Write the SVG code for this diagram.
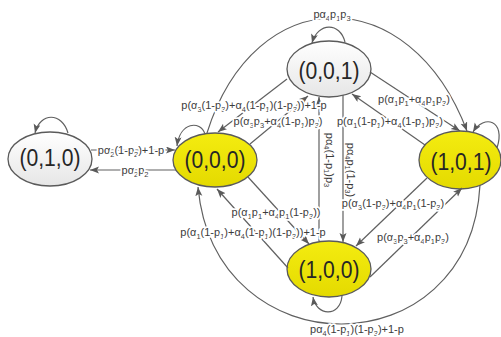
<svg xmlns="http://www.w3.org/2000/svg" width="501" height="337" viewBox="0 0 501 337">
<style>
.e{stroke:#5a5a5a;stroke-width:1.3}
.c{fill:none;stroke:#606060;stroke-width:1.2;marker-end:url(#ah)}
.n{font-family:"Liberation Sans",Arial,sans-serif;font-size:24px;fill:#262626;text-anchor:middle}
.lb{font-family:"Liberation Sans",Arial,sans-serif;font-size:11px;fill:#3c3c3c;text-anchor:middle;stroke:#fff;stroke-width:3.5;stroke-linejoin:round;paint-order:stroke}
.lv{font-family:"Liberation Sans",Arial,sans-serif;font-size:11px;fill:#3c3c3c;text-anchor:middle}
.s{font-size:7.5px}
</style>
<defs>
<linearGradient id="gy" x1="0" y1="0" x2="0" y2="1"><stop offset="0" stop-color="#f4ec10"/><stop offset="1" stop-color="#e4da00"/></linearGradient>
<linearGradient id="gg" x1="0" y1="0" x2="0" y2="1"><stop offset="0" stop-color="#ffffff"/><stop offset="1" stop-color="#e6e6e6"/></linearGradient>
<marker id="ah" markerUnits="userSpaceOnUse" markerWidth="10" markerHeight="8" refX="9" refY="3.5" orient="auto"><path d="M0,0 L9,3.5 L0,7 L2,3.5 z" fill="#5a5a5a"/></marker>
</defs>
<g id="n010"><ellipse class="e" cx="50" cy="159" rx="42" ry="27" fill="url(#gg)"/><text class="n" transform="translate(50,166) scale(0.88,1)">(0,1,0)</text></g>
<g id="n000"><ellipse class="e" cx="215" cy="160" rx="42" ry="27" fill="url(#gy)"/><text class="n" transform="translate(215,168) scale(0.88,1)">(0,0,0)</text></g>
<g id="n001"><ellipse class="e" cx="329" cy="69" rx="42" ry="28" fill="url(#gg)"/><text class="n" transform="translate(329,79) scale(0.88,1)">(0,0,1)</text></g>
<g id="n101"><ellipse class="e" cx="460" cy="160" rx="41" ry="29" fill="url(#gy)"/><text class="n" transform="translate(461,170) scale(0.88,1)">(1,0,1)</text></g>
<g id="n100"><ellipse class="e" cx="329" cy="269" rx="42" ry="28" fill="url(#gy)"/><text class="n" transform="translate(329,278) scale(0.88,1)">(1,0,0)</text></g>
<g id="connectors">
<path class="c" d="M68,133 C62,112 40,112 35,133"/>
<path class="c" d="M91,150 L175,150"/>
<path class="c" d="M176,170 L90,170"/>
<path class="c" d="M205,134 C200,120 180,122 177,146"/>
<path class="c" d="M207,133 C255,-20 410,-20 467,131"/>
<path class="c" d="M345,42 C340,22 318,22 312,43"/>
<path class="c" d="M250,144 L308,96"/>
<path class="c" d="M287,79 L218,132"/>
<path class="c" d="M319,241 L319,97"/>
<path class="c" d="M343,95 L343,242"/>
<path class="c" d="M425,145 L352,94"/>
<path class="c" d="M370,72 L460,131"/>
<path class="c" d="M497,148 C506,120 484,114 473,132"/>
<path class="c" d="M427,178 L356,246"/>
<path class="c" d="M370,277 L462,188"/>
<path class="c" d="M342,296 C340,318 316,316 313,297"/>
<path class="c" d="M480,185 C470,370 215,370 198,187"/>
<path class="c" d="M288,268 L217,189"/>
<path class="c" d="M248,177 L309,244"/>
<text class="lb" x="131" y="154">pα<tspan class="s" dy="2.5">2</tspan><tspan dy="-2.5">(1-p</tspan><tspan class="s" dy="2.5">2</tspan><tspan dy="-2.5">)+1-p</tspan></text>
<text class="lb" x="135" y="174">pα<tspan class="s" dy="2.5">2</tspan><tspan dy="-2.5">p</tspan><tspan class="s" dy="2.5">2</tspan></text>
<text class="lb" x="332" y="18">pα<tspan class="s" dy="2.5">4</tspan><tspan dy="-2.5">p</tspan><tspan class="s" dy="2.5">1</tspan><tspan dy="-2.5">p</tspan><tspan class="s" dy="2.5">3</tspan></text>
<text class="lb" x="254" y="109">p(α<tspan class="s" dy="2.5">3</tspan><tspan dy="-2.5">(1-p</tspan><tspan class="s" dy="2.5">3</tspan><tspan dy="-2.5">)+α</tspan><tspan class="s" dy="2.5">4</tspan><tspan dy="-2.5">(1-p</tspan><tspan class="s" dy="2.5">1</tspan><tspan dy="-2.5">)(1-p</tspan><tspan class="s" dy="2.5">3</tspan><tspan dy="-2.5">))+1-p</tspan></text>
<text class="lb" x="278" y="125">p(α<tspan class="s" dy="2.5">3</tspan><tspan dy="-2.5">p</tspan><tspan class="s" dy="2.5">3</tspan><tspan dy="-2.5">+α</tspan><tspan class="s" dy="2.5">4</tspan><tspan dy="-2.5">(1-p</tspan><tspan class="s" dy="2.5">1</tspan><tspan dy="-2.5">)p</tspan><tspan class="s" dy="2.5">3</tspan><tspan dy="-2.5">)</tspan></text>
<text class="lb" x="414" y="103">p(α<tspan class="s" dy="2.5">1</tspan><tspan dy="-2.5">p</tspan><tspan class="s" dy="2.5">1</tspan><tspan dy="-2.5">+α</tspan><tspan class="s" dy="2.5">4</tspan><tspan dy="-2.5">p</tspan><tspan class="s" dy="2.5">1</tspan><tspan dy="-2.5">p</tspan><tspan class="s" dy="2.5">3</tspan><tspan dy="-2.5">)</tspan></text>
<text class="lb" x="390" y="125">p(α<tspan class="s" dy="2.5">1</tspan><tspan dy="-2.5">(1-p</tspan><tspan class="s" dy="2.5">1</tspan><tspan dy="-2.5">)+α</tspan><tspan class="s" dy="2.5">4</tspan><tspan dy="-2.5">(1-p</tspan><tspan class="s" dy="2.5">1</tspan><tspan dy="-2.5">)p</tspan><tspan class="s" dy="2.5">3</tspan><tspan dy="-2.5">)</tspan></text>
<text class="lv" transform="translate(326,160) rotate(90)">pα<tspan class="s" dy="2.5">4</tspan><tspan dy="-2.5">(1-p</tspan><tspan class="s" dy="2.5">1</tspan><tspan dy="-2.5">)p</tspan><tspan class="s" dy="2.5">3</tspan></text>
<text class="lv" transform="translate(347,170) rotate(90)">pα<tspan class="s" dy="2.5">4</tspan><tspan dy="-2.5">p</tspan><tspan class="s" dy="2.5">1</tspan><tspan dy="-2.5">(1-p</tspan><tspan class="s" dy="2.5">3</tspan><tspan dy="-2.5">)</tspan></text>
<text class="lb" x="393" y="207">p(α<tspan class="s" dy="2.5">3</tspan><tspan dy="-2.5">(1-p</tspan><tspan class="s" dy="2.5">3</tspan><tspan dy="-2.5">)+α</tspan><tspan class="s" dy="2.5">4</tspan><tspan dy="-2.5">p</tspan><tspan class="s" dy="2.5">1</tspan><tspan dy="-2.5">(1-p</tspan><tspan class="s" dy="2.5">3</tspan><tspan dy="-2.5">)</tspan></text>
<text class="lb" x="413" y="241">p(α<tspan class="s" dy="2.5">3</tspan><tspan dy="-2.5">p</tspan><tspan class="s" dy="2.5">3</tspan><tspan dy="-2.5">+α</tspan><tspan class="s" dy="2.5">4</tspan><tspan dy="-2.5">p</tspan><tspan class="s" dy="2.5">1</tspan><tspan dy="-2.5">p</tspan><tspan class="s" dy="2.5">3</tspan><tspan dy="-2.5">)</tspan></text>
<text class="lb" x="276" y="216">p(α<tspan class="s" dy="2.5">1</tspan><tspan dy="-2.5">p</tspan><tspan class="s" dy="2.5">1</tspan><tspan dy="-2.5">+α</tspan><tspan class="s" dy="2.5">4</tspan><tspan dy="-2.5">p</tspan><tspan class="s" dy="2.5">1</tspan><tspan dy="-2.5">(1-p</tspan><tspan class="s" dy="2.5">3</tspan><tspan dy="-2.5">))</tspan></text>
<text class="lb" x="253" y="236">p(α<tspan class="s" dy="2.5">1</tspan><tspan dy="-2.5">(1-p</tspan><tspan class="s" dy="2.5">1</tspan><tspan dy="-2.5">)+α</tspan><tspan class="s" dy="2.5">4</tspan><tspan dy="-2.5">(1-p</tspan><tspan class="s" dy="2.5">1</tspan><tspan dy="-2.5">)(1-p</tspan><tspan class="s" dy="2.5">3</tspan><tspan dy="-2.5">))+1-p</tspan></text>
<text class="lb" x="357" y="333">pα<tspan class="s" dy="2.5">4</tspan><tspan dy="-2.5">(1-p</tspan><tspan class="s" dy="2.5">1</tspan><tspan dy="-2.5">)(1-p</tspan><tspan class="s" dy="2.5">3</tspan><tspan dy="-2.5">)+1-p</tspan></text>
</g>
</svg>
